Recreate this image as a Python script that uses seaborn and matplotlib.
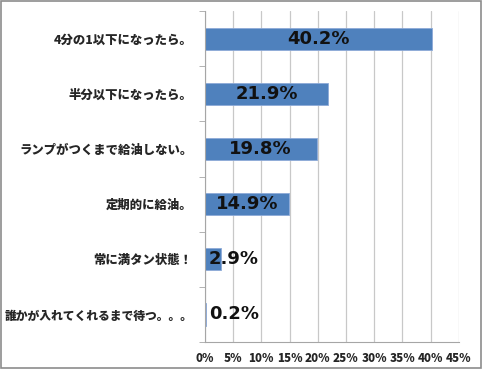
import matplotlib
matplotlib.use("Agg")
import matplotlib.pyplot as plt
import seaborn as sns
import pandas as pd
from matplotlib.patches import Rectangle
from matplotlib.ticker import MultipleLocator, FuncFormatter

categories = ["4分の1以下になったら。", "半分以下になったら。", "ランプがつくまで給油しない。",
              "定期的に給油。", "常に満タン状態！", "誰かが入れてくれるまで待つ。。。"]
values = [40.2, 21.9, 19.8, 14.9, 2.9, 0.2]

df = pd.DataFrame({"answer": categories, "pct": values})

sns.set_style("white")
plt.rcParams["font.family"] = ["Noto Sans CJK JP", "DejaVu Sans"]

fig = plt.figure(figsize=(4.82, 3.69), dpi=100)
ax = fig.add_axes([0.425, 0.073, 0.527, 0.897])

sns.barplot(data=df, x="pct", y="answer", orient="h", color="#4F81BD",
            width=0.4, edgecolor="#8DAAD8", linewidth=0.6, ax=ax, saturation=1)

ax.set_xlim(0, 45)
ax.xaxis.set_major_locator(MultipleLocator(5))
ax.xaxis.set_major_formatter(FuncFormatter(lambda v, p: f"{v:.0f}%"))
ax.grid(axis="x", color="#C8C8C8", linewidth=0.9)
ax.set_axisbelow(True)
ax.set_xlabel("")
ax.set_ylabel("")

for s in ["top", "right"]:
    ax.spines[s].set_visible(False)
ax.spines["left"].set_color("#A6A6A6")
ax.spines["bottom"].set_color("#A6A6A6")

# category ticks sit at band boundaries
ax.set_yticks([i + 0.5 for i in range(-1, len(categories))], minor=True)
ax.tick_params(axis="y", which="minor", length=4, color="#A6A6A6", left=True)
ax.tick_params(axis="y", which="major", length=0, pad=9, labelsize=8.9)
ax.tick_params(axis="x", length=0, labelsize=8.3, pad=7)
for lab in ax.get_yticklabels() + ax.get_xticklabels():
    lab.set_fontweight("heavy")
ax.get_yticklabels()[-1].set_fontsize(8.5)

for i, v in enumerate(values):
    kw = dict(va="center", fontsize=13, fontweight="bold", family="DejaVu Sans", color="#111111")
    if v > 10:
        ax.text(v / 2, i, f"{v}%", ha="center", **kw)
    else:
        ax.text(0.7, i, f"{v}%", ha="left", **kw)

fig.patches.append(Rectangle((0.002, 0.003), 0.995, 0.994, transform=fig.transFigure,
                             fill=False, edgecolor="#8C8C8C", linewidth=1.2))

fig.savefig("out.png", dpi=100)
